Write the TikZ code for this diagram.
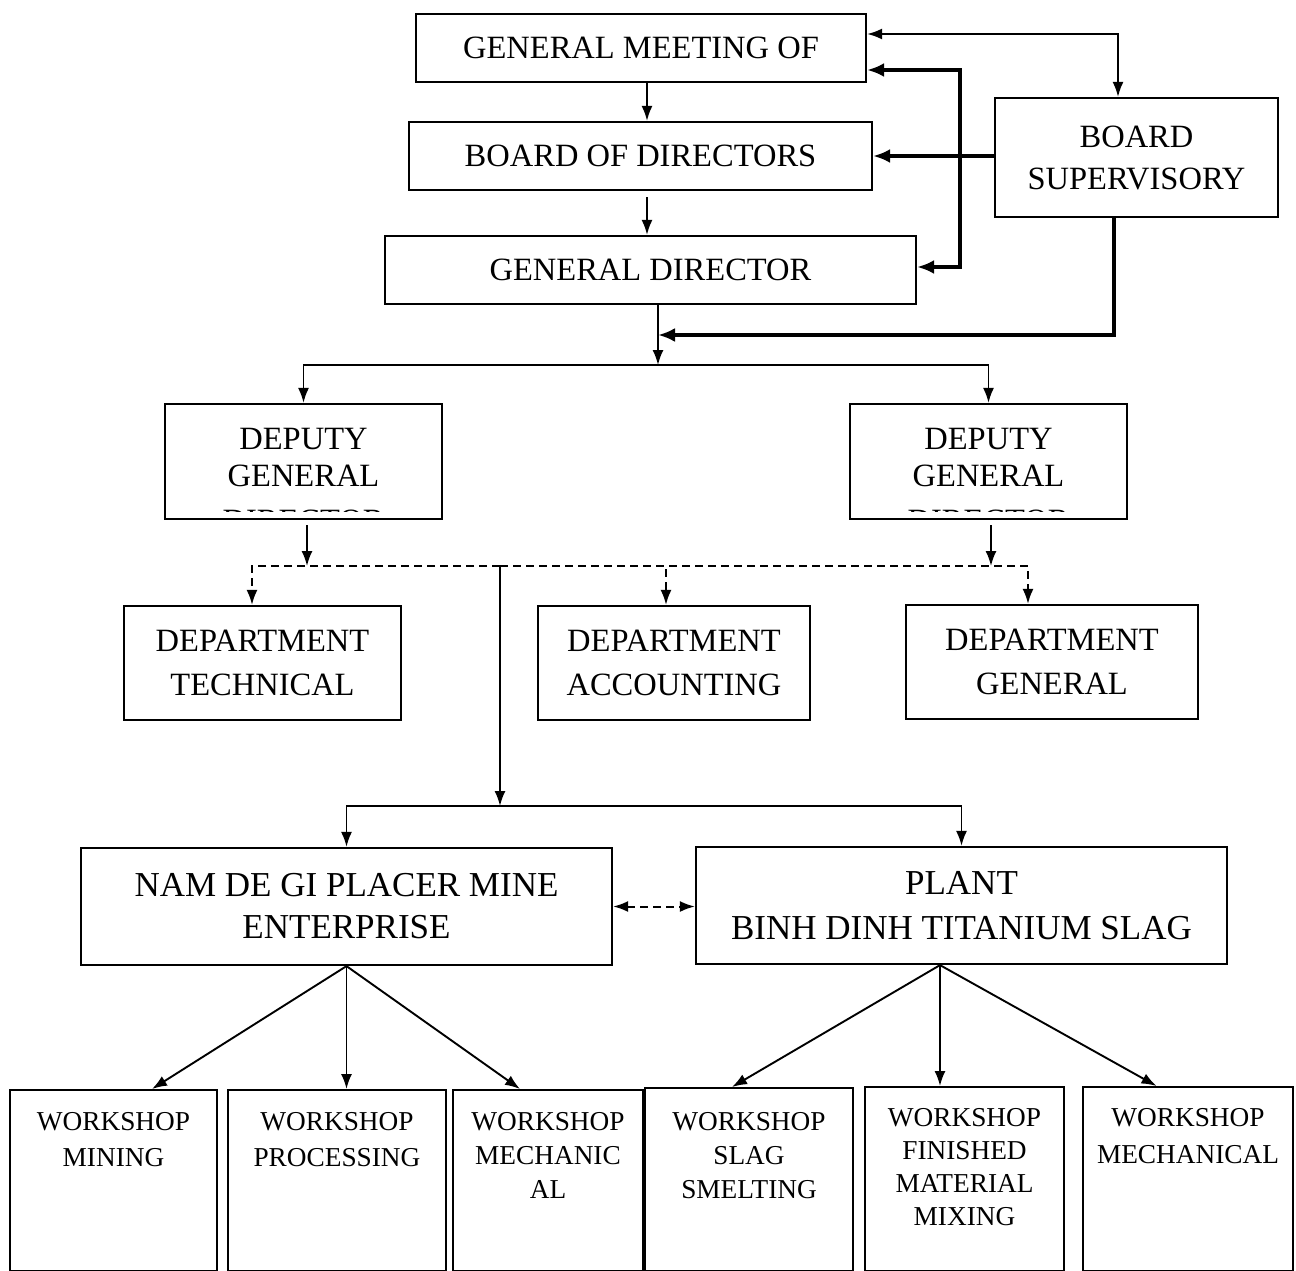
\documentclass[tikz,border=0pt]{standalone}
\usepackage{fontspec}
\setmainfont{Liberation Serif}
\usetikzlibrary{arrows.meta, positioning}
\tikzset{unitbox/.style={draw=black, line width=2.2pt, inner sep=0pt, align=center, font=\fontsize{32.5}{43}\selectfont},
wsbox/.style={draw=black, line width=2pt, inner sep=0pt}}

\begin{document}
\begin{tikzpicture}[
        x=1pt, y=-1pt,
        line join=miter,
        thinarrow/.style={line width=1.9pt, -{Latex[length=15pt, width=11pt]}},
        boldarrow/.style={line width=4.5pt, -{Latex[length=17pt, width=14pt]}},
        dasharrow/.style={line width=2pt, dash pattern=on 8pt off 5pt, -{Latex[length=15pt, width=11pt]}},
        toptext/.style={anchor=north, inner sep=0pt, align=center}
    ]
        \useasboundingbox[fill=white] (0,0) rectangle (1296,1271);
        % Top management
        \node[unitbox, minimum width=450pt, minimum height=68pt] (gmeeting) at (641,48) {GENERAL MEETING OF};
        \node[unitbox, minimum width=463pt, minimum height=68pt] (bdirectors) at (640.5,156) {BOARD OF DIRECTORS};
        \node[unitbox, minimum width=531pt, minimum height=68pt] (gdirector) at (650.5,270) {GENERAL DIRECTOR};
        \node[unitbox, minimum width=283pt, minimum height=119pt, font=\fontsize{32.5}{42}\selectfont] (bsupervisory) at (1136.5,157.5) {BOARD\\SUPERVISORY};
        % Deputies (third line cut off by the box)
        \node[unitbox, minimum width=277pt, minimum height=115pt] (deputyL) at (303.5,461.5) {};
        \node[unitbox, minimum width=277pt, minimum height=115pt] (deputyR) at (988.5,461.5) {};
        \foreach \d in {deputyL, deputyR} {
            \begin{scope}
                \clip ([xshift=2pt, yshift=-2pt]\d.north west) rectangle ([xshift=-2pt, yshift=9pt]\d.south east);
                \node[toptext, font=\fontsize{32.5}{37}\selectfont] (\d-text) at ([yshift=-25pt]\d.north) {DEPUTY\\GENERAL\\[8pt]DIRECTOR};
            \end{scope}
        }
        % Departments
        \node[unitbox, minimum width=277pt, minimum height=114pt, font=\fontsize{32.5}{44}\selectfont] (deptTech) at (262.5,663) {DEPARTMENT\\TECHNICAL};
        \node[unitbox, minimum width=272pt, minimum height=114pt, font=\fontsize{32.5}{44}\selectfont] (deptAcc) at (674,663) {DEPARTMENT\\ACCOUNTING};
        \node[unitbox, minimum width=292pt, minimum height=114pt, font=\fontsize{32.5}{44}\selectfont] (deptGen) at (1052,662) {DEPARTMENT\\GENERAL};
        % Production units
        \node[unitbox, minimum width=531pt, minimum height=117pt, font=\fontsize{35}{42}\selectfont] (namDeGi) at (346.5,906.5) {NAM DE GI PLACER MINE\\ENTERPRISE};
        \node[unitbox, minimum width=531pt, minimum height=117pt, font=\fontsize{35}{45}\selectfont] (plantBD) at (961.5,905.5) {PLANT\\BINH DINH TITANIUM SLAG};
        % Workshops
        \node[wsbox, minimum width=207pt, minimum height=181pt] (wsMining) at (113.5,1180.5) {};
        \node[wsbox, minimum width=218pt, minimum height=181pt] (wsProcessing) at (337,1180.5) {};
        \node[wsbox, minimum width=190pt, minimum height=181pt] (wsMechanicL) at (548,1180.5) {};
        \node[wsbox, minimum width=208pt, minimum height=183pt] (wsSlag) at (749,1179.5) {};
        \node[wsbox, minimum width=199pt, minimum height=184pt] (wsFinished) at (964.5,1179) {};
        \node[wsbox, minimum width=210pt, minimum height=184pt] (wsMechanicalR) at (1188,1179) {};
        \node[toptext, font=\fontsize{27.3}{36}\selectfont] (wsMining-text) at ([yshift=-23pt]wsMining.north) {WORKSHOP\\MINING};
        \node[toptext, font=\fontsize{27.3}{36}\selectfont] (wsProcessing-text) at ([yshift=-23pt]wsProcessing.north) {WORKSHOP\\PROCESSING};
        \node[toptext, font=\fontsize{27.3}{34}\selectfont] (wsMechanicL-text) at ([yshift=-23pt]wsMechanicL.north) {WORKSHOP\\MECHANIC\\AL};
        \node[toptext, font=\fontsize{27.3}{34}\selectfont] (wsSlag-text) at ([yshift=-25pt]wsSlag.north) {WORKSHOP\\SLAG\\SMELTING};
        \node[toptext, font=\fontsize{27.3}{33}\selectfont] (wsFinished-text) at ([yshift=-22pt]wsFinished.north) {WORKSHOP\\FINISHED\\MATERIAL\\MIXING};
        \node[toptext, font=\fontsize{27.3}{37}\selectfont] (wsMechanicalR-text) at ([yshift=-22pt]wsMechanicalR.north) {WORKSHOP\\MECHANICAL};
        % Chain of command
        \draw[thinarrow] ([xshift=6pt]gmeeting.south) -- ([xshift=6pt]gmeeting.south |- bdirectors.north);
        \draw[thinarrow] ([xshift=6.5pt, yshift=-6pt]bdirectors.south) -- ([xshift=6.5pt]bdirectors.south |- gdirector.north);
        \draw[line width=1.9pt, {Latex[length=15pt, width=11pt]}-{Latex[length=15pt, width=11pt]}] ([yshift=14pt]gmeeting.east) -| ([xshift=-18.5pt]bsupervisory.north);
        % Supervision
        \coordinate (supBus) at (960,156);
        \coordinate (supJoin) at (658,335);
        \draw[boldarrow] (bsupervisory.west |- bdirectors.east) -- (bdirectors.east);
        \draw[line width=4.5pt, {Latex[length=17pt, width=14pt]}-{Latex[length=17pt, width=14pt]}] ([yshift=-22pt]gmeeting.east) -| (supBus) |- ([yshift=3pt]gdirector.east);
        \draw[boldarrow] ([xshift=-22.5pt]bsupervisory.south) |- (supJoin);
        % Down to the deputies
        \coordinate (busTop) at (658,365);
        \draw[thinarrow] (gdirector.south -| busTop) -- (busTop);
        \draw[thinarrow] (busTop) -| (deputyL.north);
        \draw[thinarrow] (busTop) -| (deputyR.north);
        % Departments
        \coordinate (deptBus) at (500,566);
        \draw[thinarrow] ([xshift=3.5pt, yshift=-5pt]deputyL.south) -- ([xshift=3.5pt]deputyL.south |- deptBus);
        \draw[thinarrow] ([xshift=2.5pt, yshift=-5pt]deputyR.south) -- ([xshift=2.5pt]deputyR.south |- deptBus);
        \draw[dasharrow] (deptBus) -| ([xshift=-10.5pt]deptTech.north);
        \draw[dasharrow] (deptBus) -| ([xshift=-8pt]deptAcc.north);
        \draw[dasharrow] (deptBus) -| ([xshift=-24pt]deptGen.north);
        % Production units
        \coordinate (unitBus) at (500,806);
        \draw[thinarrow] (deptBus) -- (unitBus);
        \draw[thinarrow] (unitBus) -| (namDeGi.north);
        \draw[thinarrow] (unitBus) -| (plantBD.north);
        \draw[line width=2pt, dash pattern=on 8pt off 5pt, {Latex[length=15pt, width=11pt]}-{Latex[length=15pt, width=11pt]}] (namDeGi.east) -- (namDeGi.east -| plantBD.west);
        % Workshops
        \draw[thinarrow] (namDeGi.south) -- ([xshift=38.5pt]wsMining.north);
        \draw[thinarrow] (namDeGi.south) -- (namDeGi.south |- wsProcessing.north);
        \draw[thinarrow] (namDeGi.south) -- ([xshift=-28pt]wsMechanicL.north);
        \draw[thinarrow] ([xshift=-21.5pt]plantBD.south) -- ([xshift=-17pt]wsSlag.north);
        \draw[thinarrow] ([xshift=-21.5pt]plantBD.south) -- ([xshift=-21.5pt]plantBD.south |- wsFinished.north);
        \draw[thinarrow] ([xshift=-21.5pt]plantBD.south) -- ([xshift=-31.5pt]wsMechanicalR.north);
    \end{tikzpicture}
\end{document}
